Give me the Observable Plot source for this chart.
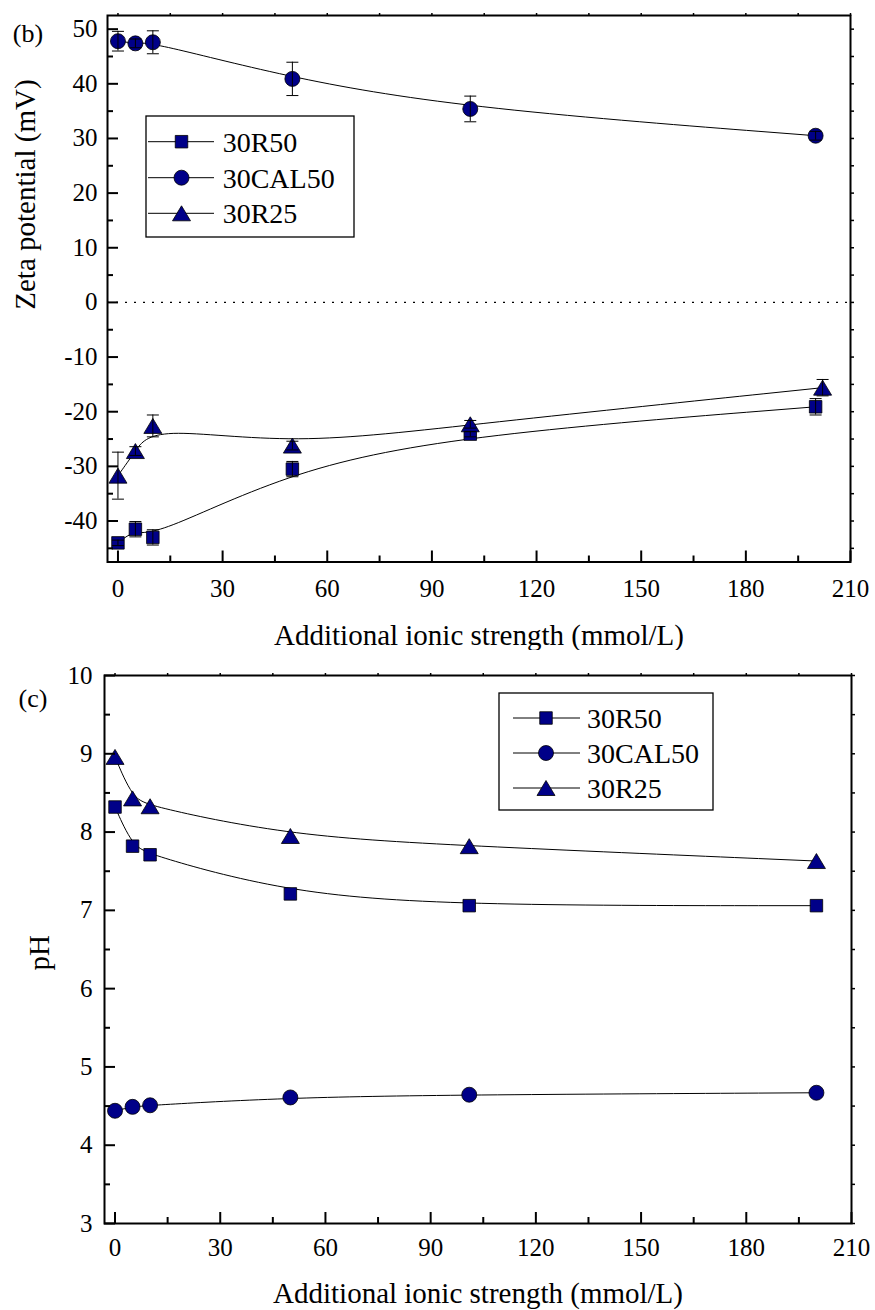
<!DOCTYPE html>
<html>
<head>
<meta charset="utf-8">
<script src="https://cdn.jsdelivr.net/npm/d3@7"></script>
<script src="https://cdn.jsdelivr.net/npm/@observablehq/plot@0.6"></script>
<style>
  body { margin: 0; background: #fff; }
  #wrap { position: relative; width: 875px; height: 1310px; overflow: hidden; background: #fff; }
  #wrap svg { position: absolute; left: 0; }
</style>
</head>
<body>
<div id="wrap"></div>
<script>
// ---------- data ----------
const seriesNames = ["30R50", "30CAL50", "30R25"];
const ionicR50 = [0, 5, 10, 50, 101, 200];
const ionicCAL50 = [0, 5, 10, 50, 101, 200];
const ionicR25zeta = [0, 5, 10, 50, 101, 202];
const ionicR25ph = [0, 5, 10, 50, 101, 200];

const zetaR50 = [-44.0, -41.5, -43.0, -30.5, -24.1, -19.1];
const zetaR50Err = [0.5, 1.4, 1.4, 1.4, 0.5, 1.5];
const zetaCAL50 = [47.8, 47.4, 47.6, 40.9, 35.4, 30.5];
const zetaCAL50Err = [1.8, 0.8, 2.1, 3.05, 2.35, 0.8];
const zetaR25 = [-31.7, -27.2, -22.6, -26.2, -22.3, -15.6];
const zetaR25Err = [4.3, 0.8, 2.0, 0.8, 0.7, 1.5];

const phR50 = [8.32, 7.82, 7.71, 7.21, 7.06, 7.06];
const phCAL50 = [4.44, 4.49, 4.51, 4.61, 4.645, 4.67];
const phR25 = [8.96, 8.43, 8.33, 7.95, 7.82, 7.63];

const xTicks = [0, 30, 60, 90, 120, 150, 180, 210];
const xMinor = [15, 45, 75, 105, 135, 165, 195];
const zetaTicks = [-40, -30, -20, -10, 0, 10, 20, 30, 40, 50];
const zetaMinor = [-45, -35, -25, -15, -5, 5, 15, 25, 35, 45];
const phTicks = [3, 4, 5, 6, 7, 8, 9, 10];
const phMinor = [3.5, 4.5, 5.5, 6.5, 7.5, 8.5, 9.5];

const xTitle = "Additional ionic strength (mmol/L)";
const zetaTitle = "Zeta potential (mV)";
const phTitle = "pH";

// ---------- styles ----------
const navy = "#000088";
const serifFont = "Liberation Serif";
const squareSym = {draw(ctx) { const h = 6.25; ctx.moveTo(-h, -h); ctx.lineTo(h, -h); ctx.lineTo(h, h); ctx.lineTo(-h, h); ctx.closePath(); }};
const circleSym = {draw(ctx) { const r = 7.5; ctx.moveTo(r, 0); ctx.arc(0, 0, r, 0, 2 * Math.PI); ctx.closePath(); }};
const triangleSym = {draw(ctx) { ctx.moveTo(0, -7.5); ctx.lineTo(9, 7.5); ctx.lineTo(-9, 7.5); ctx.closePath(); }};
const capSym = {draw(ctx) { ctx.moveTo(-6, 0); ctx.lineTo(6, 0); }};
const symbols = [squareSym, circleSym, triangleSym];

function table(xs, ys, errs) {
  return xs.map((x, i) => ({x, y: ys[i], err: errs ? errs[i] : 0}));
}

const zetaSeries = [
  table(ionicR50, zetaR50, zetaR50Err),
  table(ionicCAL50, zetaCAL50, zetaCAL50Err),
  table(ionicR25zeta, zetaR25, zetaR25Err)
];
const phSeries = [
  table(ionicR50, phR50),
  table(ionicCAL50, phCAL50),
  table(ionicR25ph, phR25)
];

const fmt = d => String(d);
function axes(yTicks, yMinor, xGap, yGap) {
  const tk = {fill: "none", label: null, stroke: "#000"};
  return [
    Plot.axisX({ticks: xTicks, tickSize: 0, tickPadding: xGap, tickFormat: fmt, fontSize: 25, label: null, fill: "#000", fontFamily: serifFont}),
    Plot.axisX({...tk, ticks: xTicks, tickSize: 11, dy: -11, strokeWidth: 2}),
    Plot.axisX({...tk, ticks: xMinor, tickSize: 6, dy: -6, strokeWidth: 2}),
    Plot.axisX({...tk, anchor: "top", ticks: xTicks.concat(xMinor), tickSize: 3, strokeWidth: 1.5}),
    Plot.axisY({ticks: yTicks, tickSize: 0, tickPadding: yGap, tickFormat: fmt, fontSize: 25, label: null, fill: "#000", fontFamily: serifFont}),
    Plot.axisY({...tk, ticks: yTicks, tickSize: 11, dx: 11, strokeWidth: 2}),
    Plot.axisY({...tk, ticks: yMinor, tickSize: 6, dx: 6, strokeWidth: 2}),
    Plot.axisY({...tk, anchor: "right", ticks: yTicks.concat(yMinor), tickSize: 3, strokeWidth: 1.5})
  ];
}

function seriesMarks(series, withErr) {
  const out = [];
  series.forEach(rows => out.push(Plot.line(rows, {x: "x", y: "y", curve: "basis", stroke: "#000", strokeWidth: 1})));
  series.forEach((rows, i) => out.push(Plot.dot(rows, {x: "x", y: "y", symbol: symbols[i], r: 7, fill: navy, stroke: "#000", strokeWidth: 0.8})));
  if (withErr) {
    series.forEach(rows => {
      out.push(Plot.ruleX(rows, {x: "x", y1: d => d.y - d.err, y2: d => d.y + d.err, stroke: "#000", strokeWidth: 1}));
      out.push(Plot.dot(rows, {x: "x", y: d => d.y + d.err, symbol: capSym, fill: "none", stroke: "#000", strokeWidth: 1}));
      out.push(Plot.dot(rows, {x: "x", y: d => d.y - d.err, symbol: capSym, fill: "none", stroke: "#000", strokeWidth: 1}));
    });
  }
  return out;
}

function textMark(str, opts) {
  return Plot.text([str], {text: d => d, fill: "#000", fontFamily: serifFont, lineAnchor: "middle", ...opts});
}

// ---------- panel (b) ----------
const plotB = Plot.plot({
  width: 875, height: 650,
  marginTop: 15, marginBottom: 88.5, marginLeft: 107, marginRight: 25,
  style: {fontFamily: serifFont, fontSize: "25px", color: "#000", background: "transparent"},
  x: {domain: [-3, 210]},
  y: {domain: [-47.5, 52.5]},
  marks: [
    Plot.ruleY([0], {stroke: "#000", strokeWidth: 1.2, strokeDasharray: "2,7"}),
    ...seriesMarks(zetaSeries, true),
    ...axes(zetaTicks, zetaMinor, 17, 10),
    Plot.frame({stroke: "#000", strokeWidth: 2}),
    textMark(xTitle, {frameAnchor: "bottom", dy: 73.5, fontSize: 29}),
    textMark(zetaTitle, {frameAnchor: "left", rotate: -90, dx: -82, dy: 21, fontSize: 29}),
    textMark("(b)", {frameAnchor: "top-left", dx: -79.5, dy: 18, textAnchor: "middle", fontSize: 26})
  ]
});
plotB.style.top = "0px";

// ---------- panel (c) ----------
const plotC = Plot.plot({
  width: 875, height: 660,
  marginTop: 25, marginBottom: 87, marginLeft: 104, marginRight: 24,
  style: {fontFamily: serifFont, fontSize: "25px", color: "#000", background: "transparent"},
  x: {domain: [-3, 210]},
  y: {domain: [3, 10]},
  marks: [
    ...seriesMarks(phSeries, false),
    ...axes(phTicks, phMinor, 14.5, 12),
    Plot.frame({stroke: "#000", strokeWidth: 2}),
    textMark(xTitle, {frameAnchor: "bottom", dy: 70, fontSize: 29}),
    textMark(phTitle, {frameAnchor: "left", rotate: -90, dx: -65, dy: 21, fontSize: 29}),
    textMark("(c)", {frameAnchor: "top-left", dx: -71.5, dy: 23, textAnchor: "middle", fontSize: 26})
  ]
});
plotC.style.top = "650px";

// ---------- legends ----------
function drawLegend(svgNode, box, rowY, lineX1, lineX2, markX, textX) {
  const g = d3.select(svgNode).append("g").attr("class", "legend").attr("text-anchor", "start");
  g.append("rect").attr("x", box.x).attr("y", box.y).attr("width", box.w).attr("height", box.h)
    .attr("fill", "#fff").attr("stroke", "#000").attr("stroke-width", 1.3);
  seriesNames.forEach((name, i) => {
    const y = rowY[i];
    g.append("line").attr("x1", lineX1).attr("x2", lineX2).attr("y1", y).attr("y2", y)
      .attr("stroke", "#000").attr("stroke-width", 1);
    g.append("path").attr("d", d3.symbol(symbols[i])()).attr("transform", `translate(${markX},${y})`)
      .attr("fill", navy).attr("stroke", "#000").attr("stroke-width", 0.8);
    g.append("text").attr("x", textX).attr("y", y).attr("dy", "0.35em").attr("text-anchor", "start")
      .attr("font-family", serifFont).attr("font-size", 28).attr("fill", "#000").text(name);
  });
}
drawLegend(plotB, {x: 146, y: 116, w: 208, h: 121}, [141.7, 177.7, 213.3], 148, 214, 181.5, 222.7);
drawLegend(plotC, {x: 499, y: 43, w: 214, h: 117}, [68, 103, 138], 513, 580, 546, 587);

const wrap = document.getElementById("wrap");
wrap.appendChild(plotB);
wrap.appendChild(plotC);
</script>
</body>
</html>
